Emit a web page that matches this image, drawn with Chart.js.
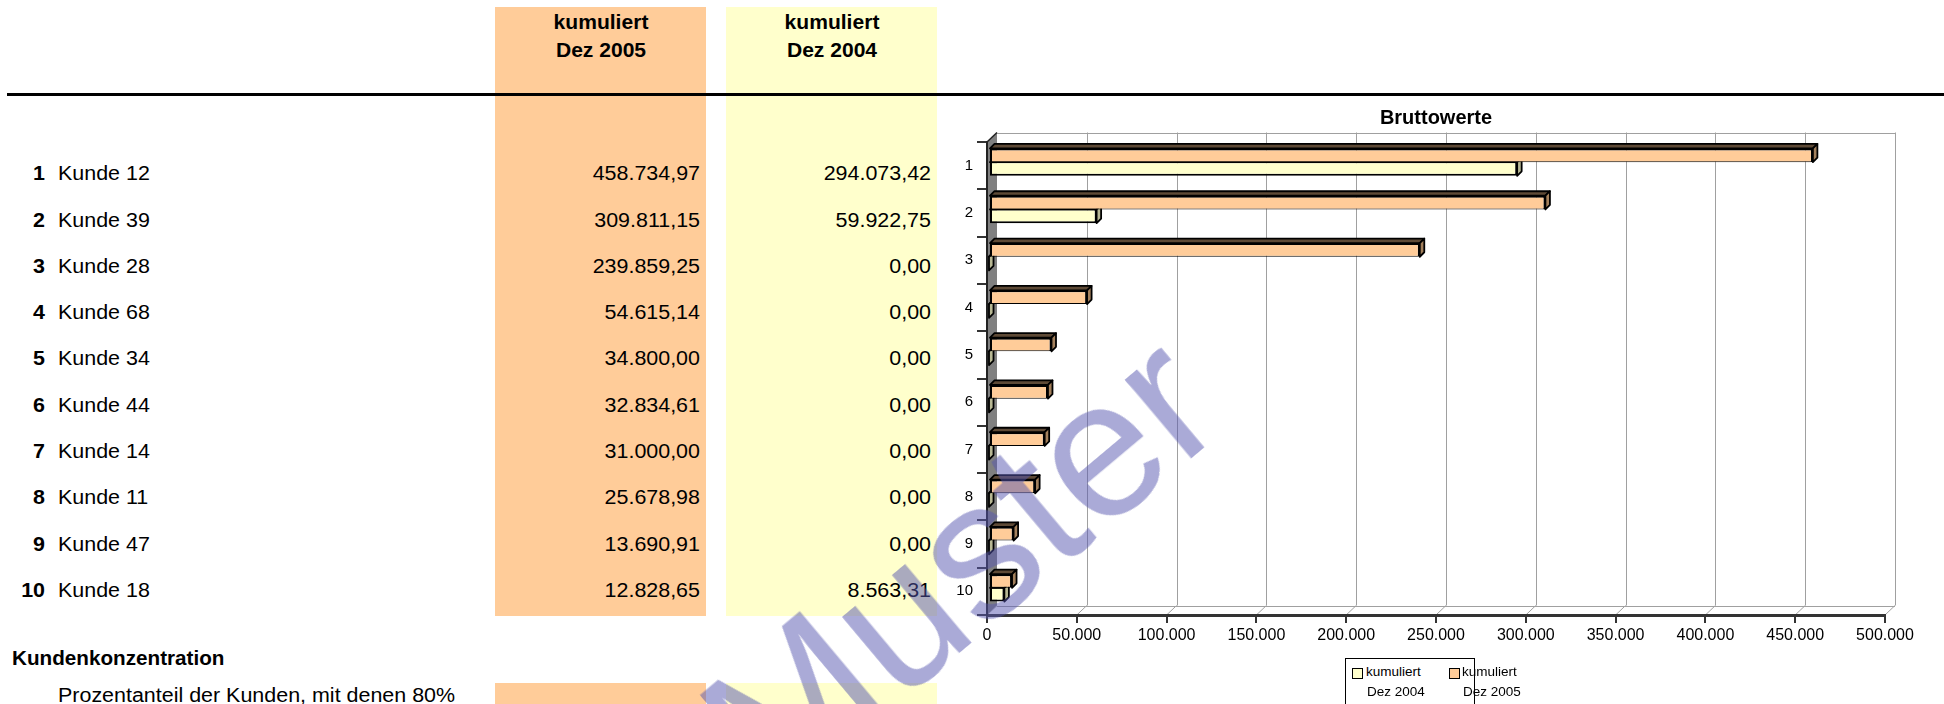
<!DOCTYPE html>
<html><head><meta charset="utf-8">
<script src="https://cdn.jsdelivr.net/npm/chart.js@4.4.1/dist/chart.umd.min.js"></script>
<style>
html,body{margin:0;padding:0;background:#fff;}
body{width:1944px;height:704px;overflow:hidden;position:relative;font-family:"Liberation Sans",Arial,sans-serif;color:#000;}
.box{position:absolute;}
.t{position:absolute;line-height:0;white-space:nowrap;}
#wm{position:absolute;left:0;top:0;font-family:"Liberation Sans",Arial,sans-serif;font-size:195px;line-height:1;color:rgba(85,85,175,0.5);white-space:nowrap;transform-origin:0 0;pointer-events:none;z-index:10;}
</style></head><body>
<div class="box" style="left:495px;top:7px;width:211px;height:609px;background:#FFCC99"></div>
<div class="box" style="left:726px;top:7px;width:211px;height:609px;background:#FFFFCC"></div>
<div class="box" style="left:495px;top:683px;width:211px;height:30px;background:#FFCC99"></div>
<div class="box" style="left:726px;top:683px;width:211px;height:30px;background:#FFFFCC"></div>
<div class="box" style="left:7px;top:93px;width:1937px;height:3px;background:#000"></div>
<div class="box" style="left:940px;top:100px;width:1004px;height:604px;"><canvas id="c" width="1004" height="604"></canvas></div>
<div class="box" style="left:1345px;top:658px;width:128px;height:60px;border:1px solid #000;background:#fff"></div>
<div class="box" style="left:1352px;top:668px;width:9px;height:9px;border:1.5px solid #000;background:#FFFFCC"></div>
<div class="box" style="left:1449px;top:668px;width:9px;height:9px;border:1.5px solid #000;background:#FFCC99"></div>
<div id="wm">Muster</div>
<script>
// ---- data ----
const ranks = ["1","2","3","4","5","6","7","8","9","10"];
const customers = ["Kunde 12","Kunde 39","Kunde 28","Kunde 68","Kunde 34","Kunde 44","Kunde 14","Kunde 11","Kunde 47","Kunde 18"];
const dez2005 = [458734.97, 309811.15, 239859.25, 54615.14, 34800.00, 32834.61, 31000.00, 25678.98, 13690.91, 12828.65];
const dez2004 = [294073.42, 59922.75, 0, 0, 0, 0, 0, 0, 0, 8563.31];
const columnHeaders = [["kumuliert","Dez 2005"],["kumuliert","Dez 2004"]];
const seriesNames = ["kumuliert Dez 2005","kumuliert Dez 2004"];
const chartTitle = "Bruttowerte";
const xMin = 0, xMax = 500000, xStep = 50000;

function fmtDE(v, dec){
  const s = v.toFixed(dec); const parts = s.split('.');
  const i = parts[0].replace(/\B(?=(\d{3})+(?!\d))/g,'.');
  return parts.length>1 ? i+','+parts[1] : i;
}
function txt(str, x, baseline, size, opt){
  opt = opt||{};
  const d = document.createElement('div');
  d.className='t'; d.textContent=str;
  d.style.fontSize=size+'px';
  d.style.top=(baseline-0.3465*size)+'px';
  d.style.left=x+'px';
  if(opt.bold) d.style.fontWeight='bold';
  const sx = opt.sx||1;
  let tr = '';
  if(opt.align==='right'){ tr='translateX(-100%)'; d.style.transformOrigin='100% 0'; }
  else if(opt.align==='center'){ tr='translateX(-50%)'; d.style.transformOrigin='50% 0'; }
  else { d.style.transformOrigin='0 0'; }
  if(sx!==1) tr += ' scaleX('+sx+')';
  if(tr) d.style.transform=tr;
  document.body.appendChild(d);
  return d;
}
const FS = 19.5, SX = 1.1;
txt(columnHeaders[0][0], 600.5, 29, FS, {bold:true, align:'center', sx:1.08});
txt(columnHeaders[0][1], 600.5, 57, FS, {bold:true, align:'center', sx:1.08});
txt(columnHeaders[1][0], 831.5, 29, FS, {bold:true, align:'center', sx:1.08});
txt(columnHeaders[1][1], 831.5, 57, FS, {bold:true, align:'center', sx:1.08});
for(let i=0;i<ranks.length;i++){
  const b = 180 + i*46.3;
  txt(ranks[i], 45, b, FS, {bold:true, align:'right', sx:SX});
  txt(customers[i], 58, b, FS, {sx:SX});
  txt(fmtDE(dez2005[i],2), 700, b, FS, {align:'right', sx:SX});
  txt(fmtDE(dez2004[i],2), 931, b, FS, {align:'right', sx:SX});
}
txt("Kundenkonzentration", 12, 665, FS, {bold:true, sx:1.06});
txt("Prozentanteil der Kunden, mit denen 80%", 58, 702, FS, {sx:SX});
txt("kumuliert", 1366, 677, 13.5);
txt("Dez 2004", 1367, 697, 13.5);
txt("kumuliert", 1462, 677, 13.5);
txt("Dez 2005", 1463, 697, 13.5);

document.getElementById('wm').style.transform = 'translate(668px,682px) rotate(-40deg)';

// ---- chart ----
const DX = 10, DY = -9.5;
const wallPlugin = {
  id:'wall3d',
  beforeDraw(chart){
    const ctx = chart.ctx, xs = chart.scales.x, a = chart.chartArea;
    const x0 = xs.getPixelForValue(xMin), x1 = xs.getPixelForValue(xMax);
    ctx.save();
    ctx.fillStyle='#808080';
    ctx.beginPath();
    ctx.moveTo(x0,a.top); ctx.lineTo(x0+DX,a.top+DY); ctx.lineTo(x0+DX,a.bottom+DY); ctx.lineTo(x0,a.bottom); ctx.closePath(); ctx.fill();
    ctx.strokeStyle='#222'; ctx.lineWidth=1.5;
    ctx.beginPath(); ctx.moveTo(x0,a.top); ctx.lineTo(x0+DX,a.top+DY); ctx.stroke();
    ctx.strokeStyle='#a0a0a0'; ctx.lineWidth=1;
    for(let v=xMin; v<=xMax; v+=xStep){
      const x = Math.round(xs.getPixelForValue(v)+DX)+0.5;
      if(v>xMin){ ctx.beginPath(); ctx.moveTo(x,a.top+DY); ctx.lineTo(x,a.bottom+DY); ctx.stroke(); }
      ctx.beginPath(); ctx.moveTo(xs.getPixelForValue(v),a.bottom); ctx.lineTo(xs.getPixelForValue(v)+DX,a.bottom+DY); ctx.stroke();
    }
    const yt = Math.round(a.top+DY)+0.5, yb = Math.round(a.bottom+DY)+0.5;
    ctx.beginPath(); ctx.moveTo(x0+DX,yt); ctx.lineTo(x1+DX,yt); ctx.stroke();
    ctx.beginPath(); ctx.moveTo(x0+DX,yb); ctx.lineTo(x1+DX,yb); ctx.stroke();
    ctx.restore();
  },
  beforeDatasetsDraw(chart){ chart.ctx.save(); chart.ctx.translate(2,-3.5); },
  afterDatasetDraw(chart, args){
    const ctx = chart.ctx, meta = args.meta, ds = chart.data.datasets[args.index];
    const d = 4.5;
    meta.data.forEach(el=>{
      const h = el.height, top = el.y - h/2, bot = el.y + h/2;
      const l = Math.min(el.base, el.x), r = Math.max(el.base, el.x);
      ctx.save();
      ctx.lineWidth=1.8; ctx.strokeStyle='#000'; ctx.lineJoin='round';
      ctx.fillStyle = ds.topColor;
      ctx.beginPath(); ctx.moveTo(l,top); ctx.lineTo(l+d,top-d); ctx.lineTo(r+d,top-d); ctx.lineTo(r,top); ctx.closePath(); ctx.fill(); ctx.stroke();
      ctx.fillStyle = ds.sideColor;
      ctx.beginPath(); ctx.moveTo(r,top); ctx.lineTo(r+d,top-d); ctx.lineTo(r+d,bot-d); ctx.lineTo(r,bot); ctx.closePath(); ctx.fill(); ctx.stroke();
      ctx.restore();
    });
  },
  afterDatasetsDraw(chart){ chart.ctx.restore(); }
};

new Chart(document.getElementById('c').getContext('2d'), {
  type:'bar',
  data:{
    labels: ranks,
    datasets:[
      {label:seriesNames[0], data:dez2005, backgroundColor:'#FFCC99', borderColor:'#000',
       borderWidth:{top:2,left:2,right:2,bottom:1}, borderSkipped:false, categoryPercentage:0.58, barPercentage:1,
       topColor:'#5e4a36', sideColor:'#a3805c'},
      {label:seriesNames[1], data:dez2004, backgroundColor:'#FFFFCC', borderColor:'#000',
       borderWidth:{top:1,left:2,right:2,bottom:2}, borderSkipped:false, categoryPercentage:0.58, barPercentage:1,
       topColor:'#808066', sideColor:'#b8b894'}
    ]
  },
  plugins:[wallPlugin],
  options:{
    indexAxis:'y', responsive:false, animation:false, devicePixelRatio:1,
    layout:{padding:{left:7,right:59,top:0,bottom:49}},
    plugins:{
      legend:{display:false},
      tooltip:{enabled:false},
      title:{display:true, text:chartTitle, fullSize:false, color:'#000',
        font:{family:'"Liberation Sans", Arial, sans-serif', size:20, weight:'bold'}, padding:{top:6,bottom:12}}
    },
    scales:{
      x:{type:'linear', min:xMin, max:xMax,
        ticks:{stepSize:xStep, color:'#000', padding:3, font:{family:'"Liberation Sans", Arial, sans-serif', size:16},
          callback:(v)=>fmtDE(v,0)},
        grid:{drawOnChartArea:false, drawTicks:true, tickLength:8, color:'#333', lineWidth:2},
        border:{display:true, color:'#333', width:3},
        afterFit:(s)=>{s.height=40;}
      },
      y:{type:'category',
        ticks:{color:'#000', padding:4, font:{family:'"Liberation Sans", Arial, sans-serif', size:15}},
        grid:{drawOnChartArea:false, offset:true, tickLength:10, color:'#333', lineWidth:2},
        border:{display:true, color:'#222', width:2},
        afterFit:(s)=>{s.width=40;}
      }
    }
  }
});
</script>
</body></html>
